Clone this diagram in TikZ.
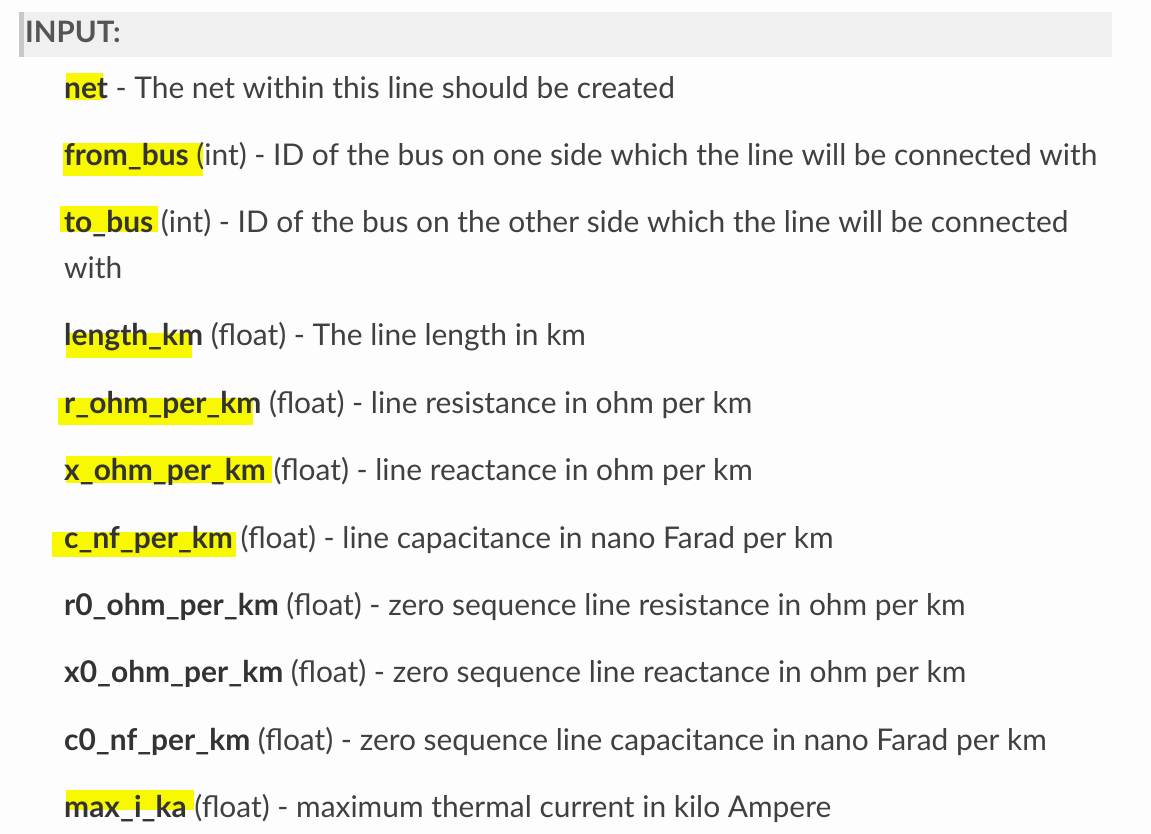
\documentclass[tikz,border=0pt]{standalone}
\usepackage{fontspec}
\setmainfont{Lato}
\definecolor{pagebg}{HTML}{FDFDFD}
\definecolor{headbg}{HTML}{F0F0F0}
\definecolor{headbar}{HTML}{C8C8C8}
\definecolor{bodytext}{HTML}{404040}
\definecolor{boldtext}{HTML}{333333}
\definecolor{headtext}{HTML}{555555}
\definecolor{hl}{HTML}{F8F800}
\begin{document}
\begin{tikzpicture}[x=1pt,y=-1pt,
  txt/.style={anchor=base west,inner sep=0pt,text=bodytext,font=\fontsize{29.9}{36}\selectfont},
  hlbox/.style={fill=hl,draw=none}]
\newcommand{\kw}[1]{\textbf{\color{boldtext}#1}}
% page
\fill[pagebg] (0,0) rectangle (1151,834);
\useasboundingbox (0,0) rectangle (1151,834);
% header
\fill[headbg] (19,12) rectangle (1112,57);
\fill[headbar] (19,12) rectangle (24,57);
\node[anchor=base west,inner sep=0pt,text=headtext,font=\fontsize{29.5}{34}\selectfont\bfseries] (head) at (25,43) {INPUT:};
% highlights
\fill[hlbox] (66,73) rectangle (103,100);
\fill[hlbox] (63,143) rectangle (203,176);
\fill[hlbox] (60,206) rectangle (158,232);
\fill[hlbox] (66,333) rectangle (192,358);
\fill[hlbox] (58,398) rectangle (253,425);
\fill[hlbox] (66,456) rectangle (272,483);
\fill[hlbox] (52,532) rectangle (236,557);
\fill[hlbox] (66,790) rectangle (194,810);
% text lines
\node[txt] (l1) at (64,99) {\kw{net} - The net within this line should be created};
\node[txt] (l2) at (64,166) {\kw{from\_bus} (int) - ID of the bus on one side which the line will be connected with};
\node[txt] (l3) at (64,233) {\kw{to\_bus} (int) - ID of the bus on the other side which the line will be connected};
\node[txt] (l3b) at (64,279) {with};
\node[txt] (l4) at (64,345) {\kw{length\_km} (float) - The line length in km};
\node[txt] (l5) at (64,413) {\kw{r\_ohm\_per\_km} (float) - line resistance in ohm per km};
\node[txt] (l6) at (64,480) {\kw{x\_ohm\_per\_km} (float) - line reactance in ohm per km};
\node[txt] (l7) at (64,548) {\kw{c\_nf\_per\_km} (float) - line capacitance in nano Farad per km};
\node[txt] (l8) at (64,615) {\kw{r0\_ohm\_per\_km} (float) - zero sequence line resistance in ohm per km};
\node[txt] (l9) at (64,682) {\kw{x0\_ohm\_per\_km} (float) - zero sequence line reactance in ohm per km};
\node[txt] (l10) at (64,750) {\kw{c0\_nf\_per\_km} (float) - zero sequence line capacitance in nano Farad per km};
\node[txt] (l11) at (64,817) {\kw{max\_i\_ka} (float) - maximum thermal current in kilo Ampere};
\end{tikzpicture}
\end{document}
